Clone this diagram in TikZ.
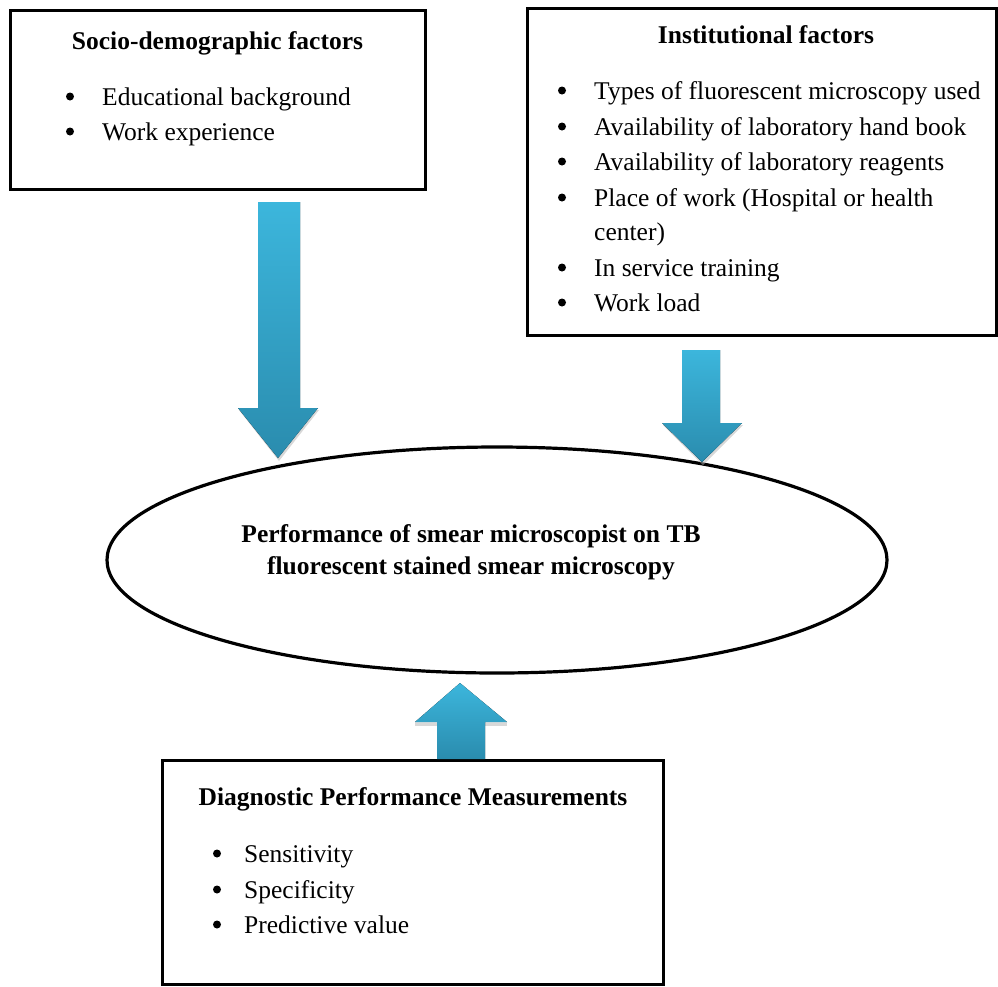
\documentclass[tikz,border=0pt]{standalone}
\usepackage{fontspec}
\setmainfont{Liberation Serif}
\usetikzlibrary{shapes.geometric}
\definecolor{arrtop}{HTML}{3CB6DC}
\definecolor{arrbot}{HTML}{2A8CAE}
\tikzset{
  framebox/.style={draw=black, line width=3pt, fill=white, inner sep=0pt},
  ttl/.style={anchor=base, inner sep=0pt, font=\fontsize{25.5}{35}\selectfont\bfseries},
  itm/.style={anchor=base west, inner sep=0pt},
  bul/.style={circle, fill=black, inner sep=0pt, minimum size=8pt},
  blockarrow/.style={top color=arrtop, bottom color=arrbot, draw=none},
  arrshadow/.style={fill=black!30, draw=none, opacity=0.5},
}
\begin{document}
\begin{tikzpicture}[x=1pt,y=-1pt,font=\fontsize{25.5}{35}\selectfont]
\useasboundingbox (0,0) rectangle (998,986);
\fill[white] (0,0) rectangle (998,986);

% Boxes
\node[framebox, minimum width=415pt, minimum height=179pt] (socio) at (217.5,99.5) {};
\node[framebox, minimum width=469pt, minimum height=327pt] (inst) at (761.5,171.5) {};
\node[framebox, minimum width=501pt, minimum height=224pt] (diag) at (412.5,872) {};

% Socio-demographic box text
\node[ttl] (sociot) at (217.5,49) {Socio-demographic factors};
\node[bul] (sb1) at (70,96.5) {};
\node[itm] (si1) at (102,105) {Educational background};
\node[bul] (sb2) at (70,131.5) {};
\node[itm] (si2) at (102,140) {Work experience};

% Institutional box text
\node[ttl] (instt) at (766,43) {Institutional factors};
\node[bul] (ib1) at (562,90.5) {};
\node[itm] (ii1) at (594,99) {Types of fluorescent microscopy used};
\node[bul] (ib2) at (562,126.5) {};
\node[itm] (ii2) at (594,135) {Availability of laboratory hand book};
\node[bul] (ib3) at (562,161.5) {};
\node[itm] (ii3) at (594,170) {Availability of laboratory reagents};
\node[bul] (ib4) at (562,197.5) {};
\node[itm] (ii4) at (594,206) {Place of work (Hospital or health};
\node[itm] (ii4b) at (594,240) {center)};
\node[bul] (ib5) at (562,267.5) {};
\node[itm] (ii5) at (594,276) {In service training};
\node[bul] (ib6) at (562,302.5) {};
\node[itm] (ii6) at (594,311) {Work load};

% Diagnostic box text
\node[ttl] (diagt) at (413,805) {Diagnostic Performance Measurements};
\node[bul] (db1) at (217,853.5) {};
\node[itm] (di1) at (244,862) {Sensitivity};
\node[bul] (db2) at (217,889.5) {};
\node[itm] (di2) at (244,898) {Specificity};
\node[bul] (db3) at (217,924.5) {};
\node[itm] (di3) at (244,933) {Predictive value};

% Ellipse
\node[draw, ellipse, line width=3.2pt, minimum width=780pt, minimum height=226pt, inner sep=0pt] (perf) at (497,560) {};
\node[ttl] (perft1) at (471,542) {Performance of smear microscopist on TB};
\node[ttl] (perft2) at (471,574) {fluorescent stained smear microscopy};

% Block arrows
% arrow 1 (socio -> perf)
\coordinate (a1t) at (278,458);
\fill[arrshadow] (239,410) -- (319,410) -- (279,461) -- cycle;
\fill[blockarrow] (258,202) -- (300,202) -- (300,408) -- (318,408) -- (a1t) -- (238,408) -- (258,408) -- cycle;
% arrow 2 (inst -> perf)
\coordinate (a2t) at (702,462);
\fill[arrshadow] (663,425) -- (743,425) -- (703,465) -- cycle;
\fill[blockarrow] (682,350) -- (720,350) -- (720,423) -- (742,423) -- (a2t) -- (662,423) -- (682,423) -- cycle;
% arrow 3 (diag -> perf)
\coordinate (a3t) at (460,683);
\fill[arrshadow] (415,723) -- (507,723) -- (507,726) -- (415,726) -- cycle;
\fill[blockarrow] (437,759) -- (437,722) -- (415,722) -- (a3t) -- (507,722) -- (485,722) -- (485,759) -- cycle;
\end{tikzpicture}
\end{document}
